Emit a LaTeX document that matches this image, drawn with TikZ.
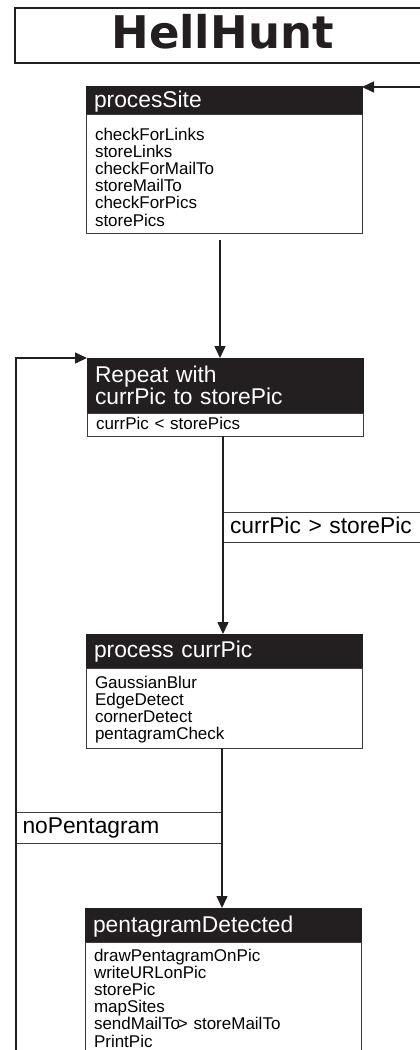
\documentclass[tikz,border=0pt]{standalone}
\usepackage{fontspec}
\setmainfont{Liberation Sans}
\newfontfamily\titlefam{DejaVu Sans}
\usetikzlibrary{arrows.meta}
\definecolor{ink}{HTML}{231F20}
\definecolor{edgegray}{HTML}{3C3C3C}
\newcommand\hhTitle{\titlefam\bfseries\fontsize{45}{45}\selectfont}
\newcommand\hhHdr{\fontsize{22.8}{22.5}\selectfont}
\newcommand\hhItem{\fontsize{17}{17.2}\selectfont}
\begin{document}
\begin{tikzpicture}[x=1pt,y=-1pt,
  hdr/.style={draw=ink, line width=0.8pt, fill=ink, text=white, font=\hhHdr, anchor=north west, text width=260pt, inner xsep=8pt, inner ysep=0pt, outer sep=0pt, align=left},
  body/.style={draw=edgegray, line width=0.9pt, fill=white, font=\hhItem, anchor=north west, text width=258pt, inner xsep=9pt, inner ysep=0pt, outer sep=0pt, align=left},
  lbl/.style={draw=edgegray, line width=0.9pt, fill=white, font=\hhHdr, anchor=north west, inner ysep=0pt, outer sep=0pt, align=left},
  conn/.style={draw=ink, line width=1.5pt},
  arr/.style={conn, -{Triangle[length=12pt,width=11pt]}},
  titlebox/.style={draw=ink, line width=1.6pt, font=\hhTitle, text=ink, minimum width=415pt, minimum height=55pt, text depth=9pt, inner sep=0pt, outer sep=0pt}
]
\useasboundingbox (0,0) rectangle (420,1050);

\node[titlebox] (title) at (222.5,35.5) {HellHunt};

\node[hdr, text height=21pt, text depth=7pt] (psh) at (86,86) {procesSite};
\node[body, text height=26pt, text depth=93pt] (psb) at (psh.south west) {checkForLinks\\storeLinks\\checkForMailTo\\storeMailTo\\checkForPics\\storePics};

\node[hdr, text height=24pt, text depth=31pt] (reph) at (87,358) {Repeat with\\currPic to storePic};
\node[body, text height=16pt, text depth=7pt] (repb) at (reph.south west) {currPic < storePics};

\node[lbl, text width=193pt, inner xsep=7pt, text height=21pt, text depth=9pt] (lgt) at (223,512) {currPic > storePic};

\node[hdr, text height=23pt, text depth=11pt] (cph) at (86,634) {process currPic};
\node[body, text height=20pt, text depth=60pt] (cpb) at (cph.south west) {GaussianBlur\\EdgeDetect\\cornerDetect\\pentagramCheck};

\node[lbl, text width=193pt, inner xsep=6.5pt, text height=21pt, text depth=10pt] (lnp) at (16,812) {noPentagram};

\node[hdr, text height=24pt, text depth=10pt] (pdh) at (85,908) {pentagramDetected};
\node[body, text height=19pt, text depth=120pt] (pdb) at (pdh.south west) {drawPentagramOnPic\\writeURLonPic\\storePic\\mapSites\\sendMailTo\kern-2pt> storeMailTo\\PrintPic};

\coordinate (inR) at (432,87);
\coordinate (loopS) at (16,1070);

\draw[arr] (inR) -- (inR -| psh.north east);
\draw[arr] ([shift={(-4pt,-7pt)}]psb.south) -- ([xshift=-4pt]psb.south |- reph.north);
\draw[arr] ([xshift=-2pt]repb.south) -- ([xshift=-2pt]repb.south |- cph.north);
\draw[arr] ([xshift=-2pt]cpb.south) -- ([xshift=-2pt]cpb.south |- pdh.north);
\draw[arr] (loopS) |- (reph.north west);
\end{tikzpicture}
\end{document}
